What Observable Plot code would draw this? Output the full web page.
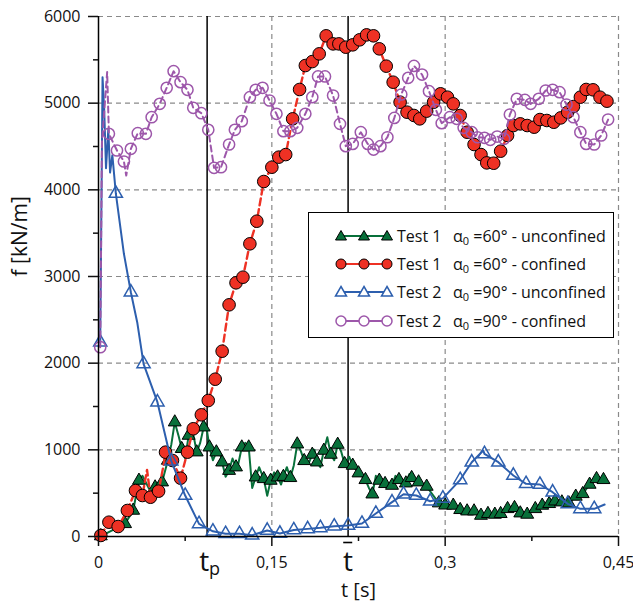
<!DOCTYPE html>
<html><head><meta charset="utf-8">
<script src="https://cdn.jsdelivr.net/npm/d3@7"></script>
<script src="https://cdn.jsdelivr.net/npm/@observablehq/plot@0.6"></script>
<style>
body{margin:0;background:#fff;font-family:"Open Sans",sans-serif;}
#wrap{position:relative;width:633px;height:602px;}
#legend{position:absolute;left:308px;top:212px;width:306px;height:126px;border:1.5px solid #000;background:#fff;box-sizing:border-box;}
.row{position:absolute;left:0;width:306px;height:24px;font-size:16px;color:#111;white-space:nowrap;}
.row svg{position:absolute;left:18px;top:0;}
.row .a{position:absolute;left:88px;top:1px;}
.row .b{position:absolute;left:144px;top:1px;}
sub{font-size:11px;vertical-align:-3px;}
</style></head><body><div id="wrap"></div>
<script>
// ---- reference marks ----
const tp = 0.094;
const tbar = 0.216;
const xTicks = [0, 0.15, 0.3, 0.45];
const xMinor = [0.075, 0.225, 0.375];
const yTicks = [0, 1000, 2000, 3000, 4000, 5000, 6000];
const yMinor = [500, 1500, 2500, 3500, 4500, 5500];

// ---- Test 1, alpha0=60°, unconfined (markers) ----
const greenT = [0.002,0.023,0.030,0.035,0.049,0.055,0.060,0.066,0.072,0.078,0.085,0.091,0.096,0.102,0.107,0.113,0.119,0.124,0.130,0.136,0.143,0.149,0.155,0.160,0.166,0.172,0.178,0.185,0.189,0.195,0.201,0.207,0.213,0.220,0.225,0.231,0.237,0.243,0.248,0.254,0.260,0.266,0.271,0.277,0.284,0.2945,0.300,0.307,0.313,0.319,0.325,0.331,0.337,0.343,0.348,0.354,0.360,0.365,0.371,0.378,0.384,0.390,0.395,0.401,0.407,0.413,0.419,0.425,0.431,0.437];
const greenF = [5,146,300,646,569,627,877,1319,1012,1165,973,1261,1030,973,857,760,800,1030,1030,684,665,646,684,690,677,1065,873,946,857,992,946,1061,838,819,731,654,488,646,608,588,654,615,677,627,577,385,360,358,308,292,292,242,262,254,262,319,331,269,254,319,358,377,407,396,385,462,492,600,665,654];
// extra line readings (signal noise between markers)
const greenLineT = [0.038,0.045,0.063,0.0695,0.075,0.081,0.088,0.093,0.099,0.105,0.110,0.116,0.121,0.127,0.133,0.139,0.146,0.152,0.158,0.163,0.169,0.175,0.182,0.187,0.192,0.198,0.204,0.210,0.217,0.234,0.240,0.257,0.263,0.269,0.275];
const greenLineF = [700,520,1060,1150,900,1250,1080,1300,880,980,690,900,840,1080,560,800,470,740,600,800,820,990,850,1000,800,1146,880,980,920,560,700,700,600,720,610];

// ---- Test 1, alpha0=60°, confined ----
const redT = [0.002,0.009,0.017,0.025,0.032,0.038,0.045,0.052,0.058,0.064,0.071,0.077,0.082,0.089,0.095,0.101,0.107,0.113,0.119,0.125,0.131,0.137,0.143,0.150,0.156,0.162,0.168,0.174,0.179,0.185,0.191,0.197,0.203,0.208,0.214,0.220,0.226,0.232,0.238,0.243,0.249,0.255,0.261,0.267,0.273,0.278,0.284,0.290,0.296,0.302,0.307,0.313,0.319,0.325,0.331,0.336,0.342,0.348,0.354,0.359,0.365,0.371,0.377,0.382,0.388,0.394,0.400,0.406,0.411,0.417,0.422,0.428,0.434,0.440];
const redF = [12,165,115,300,530,473,453,523,973,877,673,973,1243,1404,1569,1815,2138,2673,2927,2992,3377,3638,4096,4261,4377,4407,4819,5158,5434,5480,5569,5777,5684,5684,5646,5673,5731,5788,5777,5627,5427,5242,5011,4896,4858,4819,4908,5011,5108,5069,4992,4858,4665,4523,4407,4311,4307,4446,4627,4742,4761,4742,4723,4811,4800,4780,4830,4896,4961,5069,5158,5154,5069,5023];
const redLineT = [0.042,0.0565];
const redLineF = [769,838];

// ---- Test 2, alpha0=90°, unconfined ----
const blueT = [0.0015,0.015,0.028,0.039,0.051,0.063,0.075,0.087,0.099,0.110,0.122,0.133,0.146,0.157,0.169,0.181,0.192,0.204,0.216,0.228,0.240,0.254,0.264,0.275,0.287,0.298,0.313,0.323,0.334,0.346,0.359,0.370,0.382,0.393,0.406,0.417,0.429];
const blueF = [2242,3958,2819,1992,1550,869,473,146,60,31,31,15,70,35,75,88,100,118,127,150,265,396,488,473,407,440,654,857,954,857,704,608,600,511,377,319,319];
const blueLineT = [0.0035,0.005,0.0065,0.0085,0.010,0.012,0.022,0.0335,0.333,0.438];
const blueLineF = [5300,4900,4250,4700,4200,4400,3262,2473,992,369];

// ---- Test 2, alpha0=90°, confined ----
const purpleT = [0.0015,0.009,0.016,0.022,0.028,0.034,0.041,0.046,0.053,0.059,0.065,0.071,0.077,0.082,0.089,0.095,0.100,0.106,0.113,0.118,0.124,0.131,0.136,0.142,0.148,0.154,0.160,0.166,0.172,0.179,0.185,0.190,0.196,0.203,0.209,0.214,0.220,0.227,0.233,0.238,0.244,0.250,0.256,0.262,0.268,0.273,0.280,0.286,0.292,0.297,0.304,0.310,0.316,0.323,0.328,0.334,0.339,0.345,0.351,0.356,0.362,0.369,0.374,0.381,0.387,0.393,0.399,0.405,0.411,0.417,0.422,0.429,0.435,0.441];
const purpleF = [2184,4646,4454,4327,4473,4654,4646,4838,4992,5177,5369,5242,5154,4946,4884,4692,4254,4261,4523,4692,4792,5069,5154,5177,5031,4877,4677,4677,4715,4877,5069,5308,5308,5088,4761,4504,4530,4665,4530,4465,4504,4607,4830,5100,5292,5430,5330,5138,4923,4769,4838,4819,4715,4665,4607,4600,4577,4615,4588,4869,5050,5038,4992,5050,5146,5154,5127,4984,4838,4665,4530,4523,4627,4811];
const purpleLineT = [0.003,0.0075,0.024];
const purpleLineF = [4550,5360,4165];

// ---- legend text ----
const legendTest = ["Test 1", "Test 1", "Test 2", "Test 2"];
const legendAngle = ["60°", "60°", "90°", "90°"];
const legendState = ["unconfined", "confined", "unconfined", "confined"];

// ---- styles ----
const cGreen = "#08703a", cRed = "#ee3124", cBlue = "#2d5fae", cPurple = "#9d57aa";

function pts(t, f) { return t.map((d, i) => ({t: d, f: f[i]})); }
function line(t, f, xt, xf) { return pts(t, f).concat(pts(xt, xf)).sort((a, b) => a.t - b.t); }

const green = pts(greenT, greenF), red = pts(redT, redF), blue = pts(blueT, blueF), purple = pts(purpleT, purpleF);
const greenL = line(greenT, greenF, greenLineT, greenLineF);
const redL = line(redT, redF, redLineT, redLineF);
const blueL = line(blueT, blueF, blueLineT, blueLineF);
const purpleL = line(purpleT, purpleF, purpleLineT, purpleLineF);

const comma = d => d === 0 ? "0" : String(d).replace(".", ",");
const grid = {stroke: "#8a8a8a", strokeOpacity: 1, strokeWidth: 1.2, strokeDasharray: "5,4"};

const chart = Plot.plot({
  width: 633, height: 602,
  marginLeft: 98, marginRight: 15, marginTop: 16, marginBottom: 66,
  style: {fontFamily: "Open Sans, sans-serif", fontSize: "16px", color: "#111", background: "#fff"},
  x: {domain: [0, 0.45]},
  y: {domain: [0, 6000]},
  marks: [
    Plot.gridY(yTicks.filter(d => d > 0), grid),
    Plot.gridX(xTicks.filter(d => d > 0), grid),
    Plot.ruleX([tp, tbar], {stroke: "#000", strokeWidth: 1.5}),
    Plot.line(greenL, {x: "t", y: "f", stroke: cGreen, strokeWidth: 2}),
    Plot.dot(green, {x: "t", y: "f", symbol: "triangle", r: 4.8, fill: cGreen, stroke: "#000", strokeWidth: 1}),
    Plot.line(redL, {x: "t", y: "f", stroke: cRed, strokeWidth: 2.4, strokeDasharray: "7,4"}),
    Plot.dot(red, {x: "t", y: "f", r: 6.3, fill: cRed, stroke: "#000", strokeWidth: 1}),
    Plot.line(blueL, {x: "t", y: "f", stroke: cBlue, strokeWidth: 2}),
    Plot.dot(blue, {x: "t", y: "f", symbol: "triangle", r: 4.9, fill: "none", stroke: cBlue, strokeWidth: 1.5}),
    Plot.line(purpleL, {x: "t", y: "f", stroke: cPurple, strokeWidth: 2, strokeDasharray: "6,4"}),
    Plot.dot(purple, {x: "t", y: "f", r: 5.6, fill: "none", stroke: cPurple, strokeWidth: 1.5}),
    Plot.ruleY([0], {stroke: "#000", strokeWidth: 1.5}),
    Plot.ruleX([0], {stroke: "#000", strokeWidth: 1.5}),
    Plot.axisY(yTicks, {tickSize: 10, tickPadding: 8, strokeWidth: 1.5, tickFormat: d => String(d), label: null, fontSize: 16}),
    Plot.axisY(yMinor, {tickSize: 5, strokeWidth: 1.5, tickFormat: () => "", label: null}),
    Plot.axisX(xTicks, {tickSize: 10, tickPadding: 10, strokeWidth: 1.5, tickFormat: comma, label: null, fontSize: 16}),
    Plot.axisX(xMinor, {tickSize: 5, strokeWidth: 1.5, tickFormat: () => "", label: null}),
    Plot.text([tp], {x: d => d, y: () => 0, text: () => "t", fontSize: 28, textAnchor: "end", dx: 2, dy: 26}),
    Plot.text([tp], {x: d => d, y: () => 0, text: () => "p", fontSize: 18, textAnchor: "start", dx: 2, dy: 33}),
    Plot.text([tbar], {x: d => d, y: () => 0, text: () => "t", fontSize: 28, dy: 26}),
    Plot.ruleY([0], {x1: () => tbar - 0.0038, x2: () => tbar + 0.0040, stroke: "#000", strokeWidth: 1.6, dy: 6}),
    Plot.text(["t [s]"], {frameAnchor: "bottom", text: d => d, fontSize: 20, lineAnchor: "middle", dy: 54}),
    Plot.text(["f [kN/m]"], {frameAnchor: "left", text: d => d, fontSize: 21, rotate: -90, dx: -78})
  ]
});

const wrap = document.getElementById("wrap");
wrap.appendChild(chart);

// ---- legend (inside plot area) ----
function sym(kind, color, fillc) {
  const xs = [14, 37, 60];
  let s = `<svg width="76" height="24" viewBox="0 0 76 24">`;
  s += `<line x1="14" y1="12" x2="60" y2="12" stroke="${color}" stroke-width="2"/>`;
  for (const x of xs) {
    if (kind === "tri") s += `<polygon points="${x},6.5 ${x+5.5},16 ${x-5.5},16" fill="${fillc}" stroke="${fillc === color ? "#000" : color}" stroke-width="${fillc === color ? 1 : 1.5}"/>`;
    else s += `<circle cx="${x}" cy="12" r="5" fill="${fillc}" stroke="${fillc === color ? "#000" : color}" stroke-width="${fillc === color ? 1 : 1.5}"/>`;
  }
  return s + `</svg>`;
}
const legendSym = [sym("tri", cGreen, cGreen), sym("circ", cRed, cRed), sym("tri", cBlue, "#fff"), sym("circ", cPurple, "#fff")];
const rowTop = [11, 39, 67, 96];
const lg = document.createElement("div");
lg.id = "legend";
lg.innerHTML = legendTest.map((t, i) =>
  `<div class="row" style="top:${rowTop[i]}px">${legendSym[i]}<span class="a">${t}</span><span class="b">&alpha;<sub>0</sub> =${legendAngle[i]} - ${legendState[i]}</span></div>`
).join("");
wrap.appendChild(lg);
</script>
</body></html>
